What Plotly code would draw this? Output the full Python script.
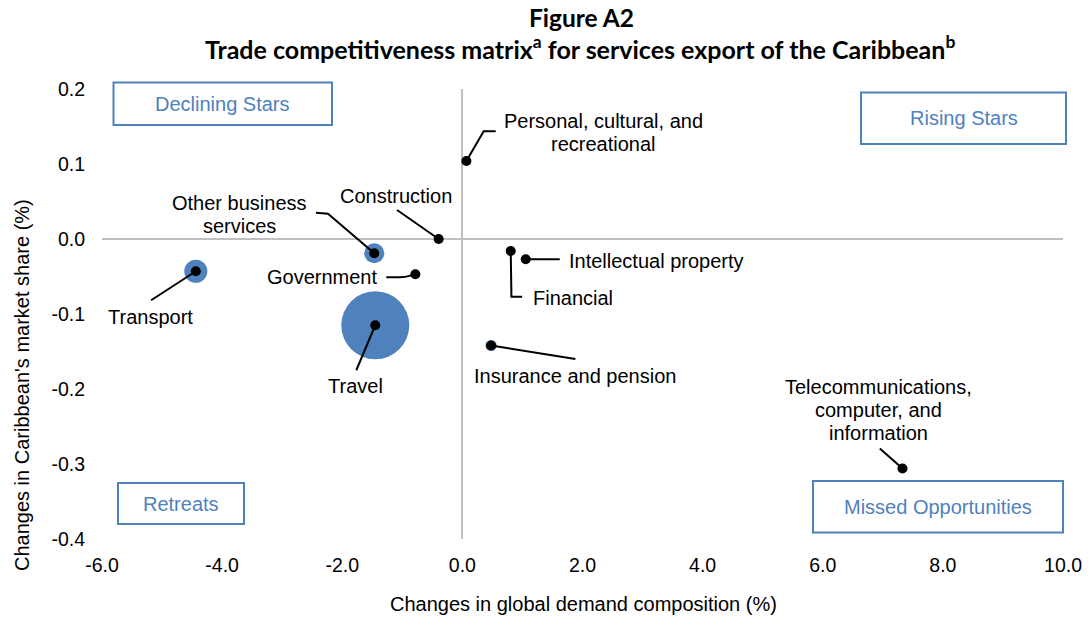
import plotly.graph_objects as go

# ---------------- data ----------------
categories = [
    "Personal, cultural, and recreational",
    "Construction",
    "Other business services",
    "Government",
    "Transport",
    "Travel",
    "Financial",
    "Intellectual property",
    "Insurance and pension",
    "Telecommunications, computer, and information",
]
demand_change = [0.067, -0.395, -1.467, -0.783, -4.438, -1.45, 0.805, 1.055, 0.478, 7.328]
share_change = [0.104, 0.0, -0.019, -0.047, -0.043, -0.115, -0.016, -0.027, -0.142, -0.306]
export_weight = [0.8, 0.8, 4.8, 0.8, 6.3, 55.0, 0.8, 0.8, 1.5, 0.8]
label_text = [
    "Personal, cultural, and<br>recreational",
    "Construction",
    "Other business<br>services",
    "Government",
    "Transport",
    "Travel",
    "Financial",
    "Intellectual property",
    "Insurance and pension",
    "Telecommunications,<br>computer, and<br>information",
]
x_tickvals = [-6, -4, -2, 0, 2, 4, 6, 8, 10]
x_ticktext = ["-6.0", "-4.0", "-2.0", "0.0", "2.0", "4.0", "6.0", "8.0", "10.0"]
y_tickvals = [-0.4, -0.3, -0.2, -0.1, 0.0, 0.1, 0.2]
y_ticktext = ["-0.4", "-0.3", "-0.2", "-0.1", "0.0", "0.1", "0.2"]
quadrants = ["Declining Stars", "Rising Stars", "Retreats", "Missed Opportunities"]

# ---------------- layout helpers (positions / styles) ----------------
W, H = 1089, 620
ML, MR, MT, MB = 102, 26, 89, 81
PW, PH = W - ML - MR, H - MT - MB
BLUE = "#4f81bd"
FONT = "Liberation Sans, Arial, sans-serif"
FS = 20
LINE_H = 23


def px_x(p):
    return (p - ML) / PW


def px_y(p):
    return (H - MB - p) / PH


# label offsets in pixels relative to each point (y up), anchor
label_off = [
    (136.8, 29, "center"),
    (-42.3, 43.3, "center"),
    (-134.5, 39, "center"),
    (-93, -3, "center"),
    (-44.9, -46, "center"),
    (-19.5, -61, "center"),
    (20.5, -47.3, "left"),
    (41, -1.4, "left"),
    (84.3, -30.3, "center"),
    (-23.9, 58.6, "center"),
]
leader_paths = [
    "M0,0 L17.3,29.7 L29.3,29.7",
    "M0,0 L-41.6,29",
    "M0,0 L-46.3,39.5 L-58.3,40.5",
    "M0,0 L-5,-1.4 Q-10,-3 -16,-3 L-29,-3",
    "M0,0 L-44.7,-29",
    "M0,0 L-19,-45",
    "M0,0 L0.7,-45.7 L11.4,-45.7",
    "M0,0 L34,0",
    "M0,0 L84.3,-13.6",
    "M0,0 L-22.7,20",
]
quad_boxes = [
    (113.5, 82.5, 332, 125),
    (861, 92.5, 1066, 144),
    (118, 483, 244, 524),
    (813, 481, 1063, 532.5),
]

fig = go.Figure()

max_w = max(export_weight)
fig.add_trace(go.Scatter(
    x=demand_change, y=share_change, mode="markers",
    marker=dict(size=export_weight, sizemode="area", opacity=1,
                sizeref=2.0 * max_w / (68.0 ** 2), color=BLUE, line=dict(width=0)),
    text=categories, hoverinfo="text", showlegend=False,
))
fig.add_trace(go.Scatter(
    x=demand_change, y=share_change, mode="markers",
    marker=dict(size=10, color="black", opacity=1, line=dict(width=0)),
    text=categories, hoverinfo="text", showlegend=False,
))

shapes = []
annotations = []
for xv, yv, path in zip(demand_change, share_change, leader_paths):
    shapes.append(dict(type="path", xref="x", yref="y", xsizemode="pixel",
                       ysizemode="pixel", xanchor=xv, yanchor=yv, path=path,
                       line=dict(color="black", width=2), layer="above"))
for xv, yv, txt, (dx, dy, anc) in zip(demand_change, share_change, label_text, label_off):
    lines = txt.split("<br>")
    n = len(lines)
    for i, ln in enumerate(lines):
        off = ((n - 1) / 2 - i) * LINE_H
        annotations.append(dict(x=xv, y=yv, xref="x", yref="y", xshift=dx, yshift=dy + off,
                                text=ln, showarrow=False, xanchor=anc, yanchor="middle",
                                align="center", font=dict(family=FONT, size=FS, color="black")))

for name, (x0, y0, x1, y1) in zip(quadrants, quad_boxes):
    shapes.append(dict(type="rect", xref="paper", yref="paper",
                       x0=px_x(x0), x1=px_x(x1), y0=px_y(y1), y1=px_y(y0),
                       line=dict(color=BLUE, width=2), fillcolor="white", layer="above"))
    annotations.append(dict(x=px_x((x0 + x1) / 2), y=px_y((y0 + y1) / 2),
                            xref="paper", yref="paper", text=name, showarrow=False,
                            xanchor="center", yanchor="middle",
                            font=dict(family=FONT, size=FS, color=BLUE)))

# titles
TFONT = "Lato, Open Sans, sans-serif"
annotations.append(dict(x=px_x(581), y=px_y(17), xref="paper", yref="paper",
                        text="<b>Figure A2</b>", showarrow=False, xanchor="center",
                        yanchor="middle", font=dict(family=TFONT, size=24.5, color="black")))
annotations.append(dict(x=px_x(580), y=px_y(47), xref="paper", yref="paper",
                        text="<b>Trade competitiveness matrix<sup>a</sup> for services export of the Caribbean<sup>b</sup></b>",
                        showarrow=False, xanchor="center", yanchor="middle",
                        font=dict(family=TFONT, size=25, color="black")))
# axis titles
annotations.append(dict(x=px_x(583), y=px_y(604), xref="paper", yref="paper",
                        text="Changes in global demand composition (%)", showarrow=False,
                        xanchor="center", yanchor="middle",
                        font=dict(family=FONT, size=FS, color="black")))
annotations.append(dict(x=px_x(22), y=px_y(385), xref="paper", yref="paper",
                        text="Changes in Caribbean's market share (%)", showarrow=False,
                        textangle=-90, xanchor="center", yanchor="middle",
                        font=dict(family=FONT, size=FS, color="black")))

fig.update_layout(
    width=W, height=H, autosize=False,
    margin=dict(l=ML, r=MR, t=MT, b=MB),
    paper_bgcolor="white", plot_bgcolor="white",
    shapes=shapes, annotations=annotations,
    font=dict(family=FONT, size=FS, color="black"),
    xaxis=dict(range=[-6, 10], tickvals=x_tickvals, ticktext=x_ticktext,
               showgrid=False, zeroline=True, zerolinecolor="#bfbfbf", zerolinewidth=2,
               showline=False, ticks="", ticklabelstandoff=12, automargin=False,
               tickfont=dict(family=FONT, size=19.5, color="black")),
    yaxis=dict(range=[-0.4, 0.2], tickvals=y_tickvals, ticktext=y_ticktext,
               showgrid=False, zeroline=True, zerolinecolor="#bfbfbf", zerolinewidth=2,
               showline=False, ticks="", ticklabelstandoff=16, automargin=False,
               tickfont=dict(family=FONT, size=19.5, color="black")),
)

fig.write_html(
    "out.html",
    config={"displayModeBar": False},
    post_script="document.body.style.margin='0';document.body.style.overflow='hidden';",
)
